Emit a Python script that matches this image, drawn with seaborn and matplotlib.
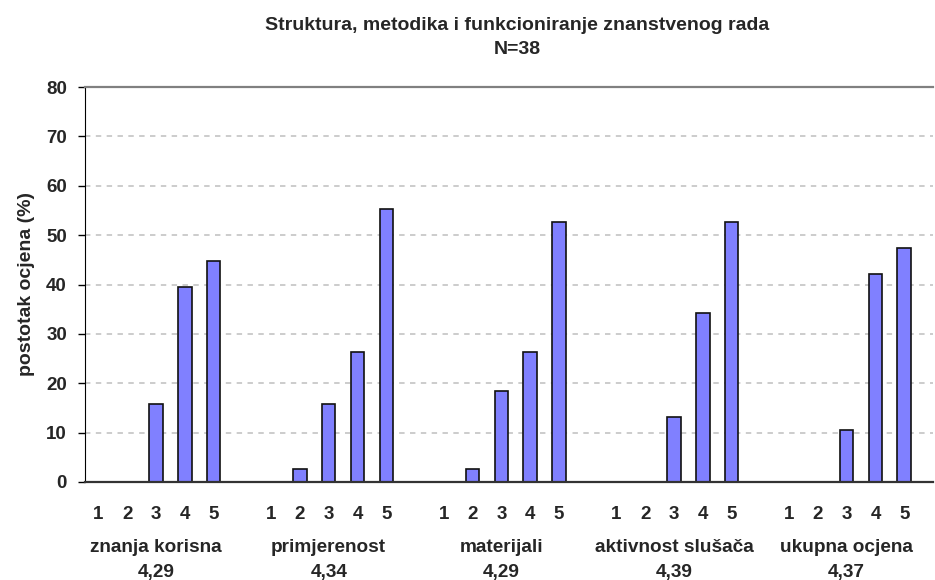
import numpy as np
import pandas as pd
import seaborn as sns
import matplotlib.pyplot as plt
from matplotlib import transforms

# data (percent of N=38 answers per grade)
categories = ['znanja korisna', 'primjerenost', 'materijali', 'aktivnost slušača', 'ukupna ocjena']
means = ['4,29', '4,34', '4,29', '4,39', '4,37']
grades = [1, 2, 3, 4, 5]
znanja_korisna = [0, 0, 15.8, 39.5, 44.7]
primjerenost = [0, 2.6, 15.8, 26.3, 55.3]
materijali = [0, 2.6, 18.4, 26.3, 52.6]
aktivnost_slusaca = [0, 0, 13.2, 34.2, 52.6]
ukupna_ocjena = [0, 0, 10.5, 42.1, 47.4]
series = [znanja_korisna, primjerenost, materijali, aktivnost_slusaca, ukupna_ocjena]

# one bar slot per grade, plus a blank slot between groups
group_step = 6
rows = []
for g, (cat, vals) in enumerate(zip(categories, series)):
    for grade, v in zip(grades, vals):
        rows.append({'cat': cat, 'grade': grade, 'pos': g * group_step + grade - 1, 'value': v})
df = pd.DataFrame(rows)

sns.set_style("white")
plt.rcParams['font.family'] = ['Liberation Sans', 'DejaVu Sans']
plt.rcParams['font.weight'] = 'bold'

fig = plt.figure(figsize=(9.35, 5.8), dpi=100)
ax = fig.add_axes([85 / 935, 1 - 482 / 580, (933 - 85) / 935, 395 / 580])

sns.barplot(data=df, x='pos', y='value', native_scale=True, width=0.47,
            color='#8080FF', saturation=1, edgecolor='#111111', linewidth=1.2, ax=ax)

ax.set_xlim(-0.47, 29.0)
ax.set_ylim(0, 80)
ax.set_yticks(range(0, 81, 10))
ax.yaxis.grid(True, linestyle=(0, (3, 3)), color='#c8c8c8', linewidth=1.3)
ax.set_axisbelow(True)

ax.spines['right'].set_visible(False)
ax.spines['top'].set_color('#808080')
ax.spines['top'].set_linewidth(1.6)
ax.spines['left'].set_color('black')
ax.spines['bottom'].set_color('#333333')
ax.spines['bottom'].set_linewidth(1.6)

ax.tick_params(axis='y', direction='out', length=5, width=1, color='black',
               left=True, pad=8, labelsize=13.5)
ax.set_xticks(df['pos'])
ax.set_xticklabels([str(g) for g in df['grade']])
ax.tick_params(axis='x', length=0, pad=17, labelsize=13.5)

ax.set_xlabel('')
ax.set_ylabel('postotak ocjena (%)', fontsize=14, fontweight='bold', labelpad=8)

trans = transforms.blended_transform_factory(ax.transData, ax.transAxes)
for g, (cat, m) in enumerate(zip(categories, means)):
    cx = g * group_step + 2
    ax.text(cx, -0.165, cat, transform=trans, ha='center', va='center', fontsize=13.7, fontweight='bold')
    ax.text(cx, -0.228, m, transform=trans, ha='center', va='center', fontsize=13.7, fontweight='bold')

fig.text(0.553, 1 - 25 / 580, 'Struktura, metodika i funkcioniranje znanstvenog rada',
         ha='center', va='center', fontsize=14, fontweight='bold')
fig.text(0.553, 1 - 50 / 580, 'N=38', ha='center', va='center', fontsize=14, fontweight='bold')

fig.savefig('out.png', dpi=100)
